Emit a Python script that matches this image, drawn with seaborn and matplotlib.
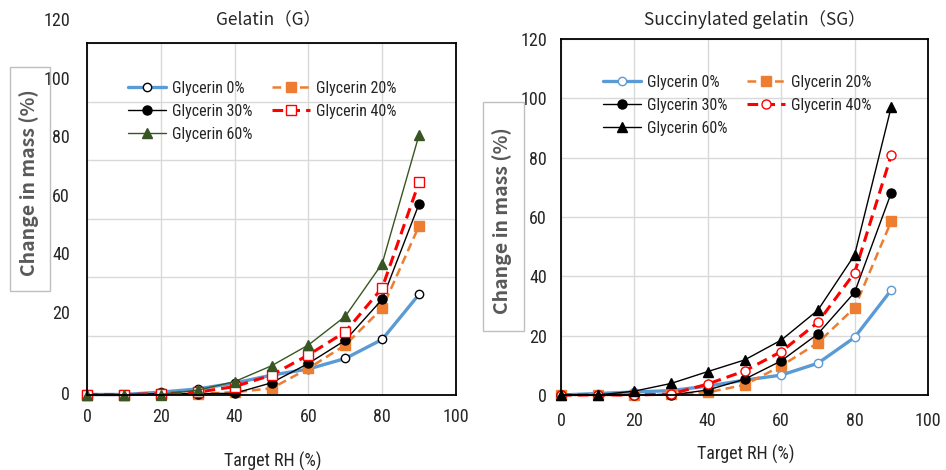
import matplotlib
matplotlib.use("Agg")
import matplotlib.pyplot as plt
import seaborn as sns
from matplotlib import font_manager
from matplotlib.patches import Rectangle
from matplotlib.transforms import blended_transform_factory, ScaledTranslation

# ---- data ----
rh = [0, 10, 20, 30, 40, 50, 60, 70, 80, 90]

# Gelatin (G)
g_0 = [0, 0, 0.8, 1.9, 3.9, 6.6, 8.7, 12.3, 18.8, 34.2]
g_20 = [0, 0, 0.3, 0.2, 0.8, 2.1, 8.9, 16.9, 29.4, 57.6]
g_30 = [0, 0, 0.3, 0.3, 0.4, 4.0, 10.6, 18.5, 32.5, 65.1]
g_40 = [0, 0, 0.3, 0.8, 2.7, 6.6, 13.5, 21.4, 36.4, 72.5]
g_60 = [-0.3, -0.3, 0, 1.5, 4.4, 9.8, 16.9, 26.7, 44.7, 88.7]

# Succinylated gelatin (SG)
sg_0 = [0, 0.5, 1.0, 1.5, 3.0, 5.0, 6.7, 10.7, 19.4, 35.4]
sg_20 = [0, 0, 0, 0.2, 0.9, 3.4, 9.8, 17.6, 29.4, 58.6]
sg_30 = [0, 0, 0, 0, 1.7, 5.3, 11.5, 20.6, 34.6, 68.2]
sg_40 = [0, 0, 0, 0.3, 3.7, 8.1, 14.6, 24.5, 41.2, 80.9]
sg_60 = [0, 0, 1.3, 3.9, 7.9, 11.8, 18.5, 28.6, 47.2, 97.2]

labels = ["Glycerin 0%", "Glycerin 20%", "Glycerin 30%", "Glycerin 40%", "Glycerin 60%"]
legend_order = [0, 2, 4, 1, 3]
x_ticks = [0, 20, 40, 60, 80, 100]
y_ticks = [0, 20, 40, 60, 80, 100, 120]

sns.set_style("white")

# pick a narrow sans if one is installed (source looks like Calibri)
entries = font_manager.fontManager.ttflist
names = {f.name for f in entries}
stretch = "normal"
base = None
for cand in ["Liberation Sans Narrow", "Roboto Condensed", "Open Sans Condensed",
             "DejaVu Sans Condensed", "Noto Sans Condensed"]:
    if cand in names:
        base = cand
        break
if base is None:
    for cand in ["Noto Sans", "DejaVu Sans", "Roboto", "Open Sans"]:
        if any(f.name == cand and str(f.stretch) in ("condensed", "semi-condensed", "extra-condensed") for f in entries):
            base, stretch = cand, "condensed"
            break
if base is None:
    base = "Roboto"
plt.rcParams["font.family"] = [base, "Noto Sans CJK JP", "DejaVu Sans"]
plt.rcParams["font.stretch"] = stretch
title_font = ["Noto Sans CJK JP", "DejaVu Sans"]

W, H = 946, 470
fig = plt.figure(figsize=(W / 100, H / 100), dpi=100)


def fx(px):
    return px / W


def fy(py):
    return 1 - py / H


axL = fig.add_axes([fx(87), fy(394.5), fx(456) - fx(87), fy(43) - fy(394.5)])
axR = fig.add_axes([fx(561), fy(395), fx(928) - fx(561), fy(39) - fy(395)])

blue, orange, red, green = "#5B9BD5", "#ED7D31", "#FF0000", "#375623"


def draw(ax, ys, styles):
    for y, lab, st in zip(ys, labels, styles):
        sns.lineplot(x=rh, y=y, ax=ax, label=lab, clip_on=False, **st)


common = dict(markeredgewidth=1.0)
styles_g = [
    dict(color=blue, lw=2.4, marker="o", ms=6, mfc="white", mec="black", **common),
    dict(color=orange, lw=1.8, ls=(0, (3.5, 2)), marker="s", ms=6.5, mfc=orange, mec=orange, **common),
    dict(color="black", lw=1.0, marker="o", ms=6.5, mfc="black", mec="black", **common),
    dict(color=red, lw=2.2, ls=(0, (3.5, 2)), marker="s", ms=6.5, mfc="white", mec=red, **common),
    dict(color=green, lw=1.0, marker="^", ms=7, mfc=green, mec=green, **common),
]
styles_sg = [
    dict(color=blue, lw=2.4, marker="o", ms=6, mfc="white", mec=blue, **common),
    dict(color=orange, lw=1.8, ls=(0, (3.5, 2)), marker="s", ms=6.5, mfc=orange, mec=orange, **common),
    dict(color="black", lw=1.0, marker="o", ms=6.5, mfc="black", mec="black", **common),
    dict(color=red, lw=2.2, ls=(0, (3.5, 2)), marker="o", ms=6.5, mfc="white", mec=red, **common),
    dict(color="black", lw=1.0, marker="^", ms=7, mfc="black", mec="black", **common),
]

draw(axL, [g_0, g_20, g_30, g_40, g_60], styles_g)
draw(axR, [sg_0, sg_20, sg_30, sg_40, sg_60], styles_sg)

for ax in (axL, axR):
    ax.set_xlim(0, 100)
    ax.set_ylim(0, 120)
    ax.set_xticks(x_ticks)
    ax.set_yticks(y_ticks)
    ax.grid(True, color="#D9D9D9", lw=1.0)
    ax.set_axisbelow(True)
    for s in ax.spines.values():
        s.set_color("black")
        s.set_linewidth(1.3)
    ax.set_xlabel("")
    ax.set_ylabel("")

tick_fs = 13

# left panel: inward tick marks, y labels drawn shifted as in the source
axL.tick_params(axis="y", direction="in", length=4, width=1, color="#404040", labelleft=False)
axL.tick_params(axis="x", length=0, pad=10, labelsize=tick_fs)
trans = blended_transform_factory(axL.transAxes, axL.transData)
for v in y_ticks:
    off = 0 if v == 0 else 22
    axL.text(-17 / 369, v, str(v), ha="right", va="center", fontsize=tick_fs,
             transform=trans + ScaledTranslation(0, off / 100, fig.dpi_scale_trans))

axR.tick_params(axis="y", length=0, pad=10, labelsize=tick_fs)
axR.tick_params(axis="x", length=0, pad=12, labelsize=tick_fs)

# titles
fig.text(fx(268), fy(20), "Gelatin（G）", ha="center", va="center", fontsize=12.5, family=title_font)
fig.text(fx(755), fy(20), "Succinylated gelatin（SG）", ha="center", va="center", fontsize=12.5, family=title_font)

# x labels
fig.text(fx(273), fy(461), "Target RH (%)", ha="center", va="center", fontsize=13)
fig.text(fx(746), fy(454), "Target RH (%)", ha="center", va="center", fontsize=13)

# boxed y labels
for (x0, y0, x1, y1) in [(10, 67, 50, 291), (483, 102, 524, 331)]:
    fig.patches.append(Rectangle((fx(x0), fy(y1)), fx(x1) - fx(x0), fy(y0) - fy(y1),
                                 transform=fig.transFigure, fill=False,
                                 edgecolor="#BFBFBF", lw=1.0, zorder=0))
    fig.text(fx((x0 + x1) / 2 - 1), fy((y0 + y1) / 2 + 4), "Change in mass (%)", rotation=90,
             ha="center", va="center", fontsize=14, fontweight="bold", color="#595959",
             family=title_font)

# legends (column-wise order as in the source)
for ax, (lx, ly) in [(axL, (128, 81)), (axR, (603, 75))]:
    handles, labs = ax.get_legend_handles_labels()
    ax.legend([handles[i] for i in legend_order], [labs[i] for i in legend_order],
              loc="upper left", bbox_to_anchor=(fx(lx), fy(ly)), bbox_transform=fig.transFigure,
              ncol=2, frameon=False, borderpad=0, fontsize=11.5, handlelength=2.4,
              handletextpad=0.35, columnspacing=1.2, labelspacing=0.5, borderaxespad=0)

fig.savefig("out.png", dpi=100)
